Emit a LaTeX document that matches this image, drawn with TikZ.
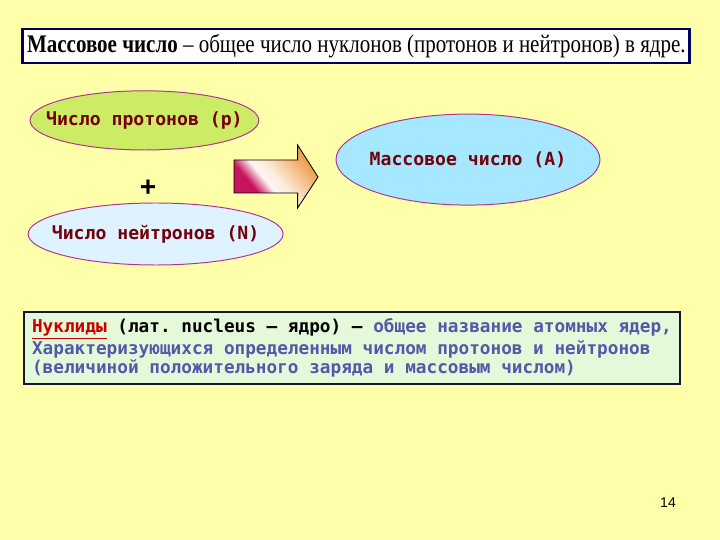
\documentclass[tikz,border=0pt]{standalone}
\usepackage{fontspec}
\setmainfont{Liberation Serif}
\newfontfamily\titlefont[FakeStretch=0.83]{Liberation Serif}
\newfontfamily\monofont{DejaVu Sans Mono}
\newfontfamily\pagefont{Liberation Sans}
\usetikzlibrary{shapes.geometric}
\definecolor{SlideYellow}{RGB}{255,255,170}
\definecolor{TitleNavy}{RGB}{0,0,90}
\definecolor{OvalBorder}{RGB}{180,50,150}
\definecolor{ProtonGreen}{RGB}{204,236,102}
\definecolor{NeutronBlue}{RGB}{222,243,255}
\definecolor{MassCyan}{RGB}{165,232,255}
\definecolor{OvalText}{RGB}{115,0,10}
\definecolor{BoxMint}{RGB}{228,248,218}
\definecolor{BoxBorder}{RGB}{20,20,60}
\definecolor{NuclRed}{RGB}{200,0,0}
\definecolor{NuclBlue}{RGB}{80,90,170}
\definecolor{ArrowCrimson}{RGB}{200,20,95}
\definecolor{ArrowOrange}{RGB}{240,160,80}
\pgfdeclarehorizontalshading{arrowgrad}{100bp}{color(0bp)=(ArrowCrimson);
  color(34bp)=(ArrowCrimson); color(43bp)=(white!85!pink);
  color(50bp)=(white!80!ArrowOrange); color(72bp)=(ArrowOrange);
  color(100bp)=(ArrowOrange)}
\tikzset{
  titlebox/.style={draw=TitleNavy,line width=2pt,fill=white,
    minimum width=16.675cm,minimum height=0.85cm,inner sep=0pt,
    font=\titlefont\fontsize{18}{20}\selectfont},
  oval/.style={ellipse,draw=OvalBorder,line width=0.7pt,inner sep=0pt},
  ovaltext/.style={text=OvalText,font=\monofont\bfseries\fontsize{12.9}{14}\selectfont},
  plussign/.style={font=\pagefont\bfseries\fontsize{20}{20}\selectfont},
  blockarrow/.style={draw=black,line width=0.6pt,shading=arrowgrad,shading angle=40},
  notebox/.style={draw=BoxBorder,line width=1pt,fill=BoxMint,
    minimum width=16.4cm,minimum height=1.8cm,inner xsep=0.1cm,
    align=left,text=NuclBlue,
    font=\monofont\bfseries\fontsize{12.6}{13.6}\selectfont\frenchspacing},
  pagenum/.style={font=\pagefont\fontsize{10}{12}\selectfont}
}

\begin{document}
\begin{tikzpicture}
  \useasboundingbox (0,0) rectangle (18,13.5);
  \fill[SlideYellow] (0,0) rectangle (18,13.5);

  % title
  \node[titlebox] (title) at (8.91,12.35)
    {\textbf{Массовое число} – общее число нуклонов (протонов и нейтронов) в ядре.};

  % ovals
  \node[oval,fill=ProtonGreen,minimum width=5.72cm,minimum height=1.48cm] (protons) at (3.61,10.49) {};
  \node[ovaltext] (protonslabel) at (protons.center) {Число протонов (р)};
  \node[plussign] (plus) at (3.7,8.8) {+};
  \node[oval,fill=NeutronBlue,minimum width=6.375cm,minimum height=1.55cm] (neutrons) at (3.89,7.65) {};
  \node[ovaltext] (neutronslabel) at (neutrons.center) {Число нейтронов (N)};
  \node[oval,fill=MassCyan,minimum width=6.6cm,minimum height=2.275cm] (mass) at (11.7,9.51) {};
  \node[ovaltext] (masslabel) at (mass.center) {Массовое число (А)};

  % big arrow
  \shade[blockarrow] (5.85,8.675) -- (7.44,8.675) -- (7.44,8.3) -- (7.95,9.075)
    -- (7.44,9.875) -- (7.44,9.5) -- (5.85,9.5) -- cycle;

  % definition
  \node[notebox] (nuclides) at (8.8,4.8)
    {\textcolor{NuclRed}{\underline{Нуклиды}} \textcolor{black}{(лат. nucleus – ядро) –} общее название атомных ядер,\\
     Характеризующихся определенным числом протонов и нейтронов\\
     (величиной положительного заряда и массовым числом)};

  \node[pagenum] (page) at (16.7,0.93) {14};
\end{tikzpicture}
\end{document}
